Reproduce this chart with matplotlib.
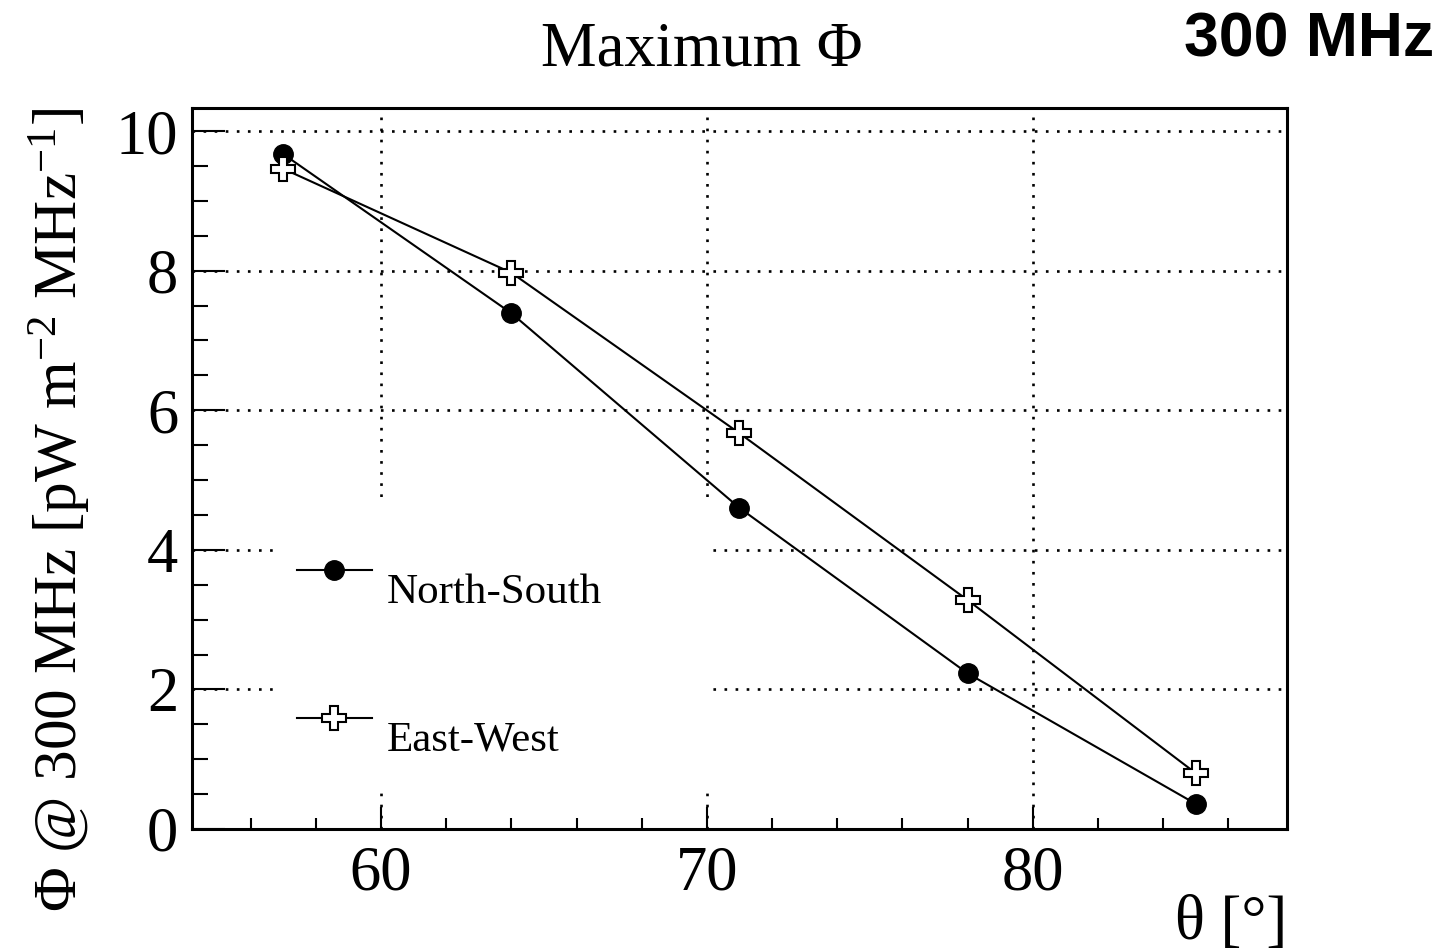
import matplotlib
matplotlib.use("Agg")
import matplotlib.pyplot as plt
from matplotlib.patches import Rectangle
from matplotlib.ticker import MultipleLocator

# zenith angle [deg] and maximum flux at 300 MHz [pW m^-2 MHz^-1]
theta = [57, 64, 71, 78, 85]
phi_ns = [9.67, 7.39, 4.60, 2.23, 0.36]
phi_ew = [9.46, 7.97, 5.67, 3.28, 0.80]
labels = ["North-South", "East-West"]

serif = ["Liberation Serif", "DejaVu Serif"]
plt.rcParams["font.family"] = serif
plt.rcParams["mathtext.fontset"] = "custom"
plt.rcParams["mathtext.rm"] = "Liberation Serif"
plt.rcParams["mathtext.it"] = "Liberation Serif:italic"

fig = plt.figure(figsize=(14.47, 9.51), dpi=100)
ax = fig.add_axes([0.1327, 0.1283, 0.7567, 0.7581])

ns_style = dict(color="black", lw=1.5, marker="o", ms=14, mfc="black", mec="black")
ew_style = dict(color="black", lw=1.5, marker="P", ms=17, mfc="white", mec="black", mew=1.5)

ax.plot(theta, phi_ns, zorder=4, **ns_style)
ax.plot(theta, phi_ew, zorder=4, **ew_style)

ax.set_xlim(54.2, 87.8)
ax.set_ylim(0, 10.33)
ax.xaxis.set_major_locator(MultipleLocator(10))
ax.xaxis.set_minor_locator(MultipleLocator(2))
ax.yaxis.set_major_locator(MultipleLocator(2))
ax.yaxis.set_minor_locator(MultipleLocator(0.5))

ax.grid(True, which="major", color="black", lw=1.9, ls=(0, (1, 3.2)), zorder=1)
ax.tick_params(axis="both", which="both", direction="in", top=False, right=False,
               labelsize=45, width=1.5, color="black")
ax.tick_params(axis="x", which="major", length=16, pad=12)
ax.tick_params(axis="x", which="minor", length=8)
ax.tick_params(axis="y", which="major", length=24, pad=10)
ax.tick_params(axis="y", which="minor", length=11.5)
for sp in ax.spines.values():
    sp.set_linewidth(2.2)

# legend drawn ROOT-style: white pad over the grid, text set below the handle
ax.add_patch(Rectangle((0.080, 0.057), 0.396, 0.403, transform=ax.transAxes,
                       facecolor="white", edgecolor="none", zorder=2))
for style, y_handle, y_text, lab in [(ns_style, 0.359, 0.328, labels[0]),
                                     (ew_style, 0.154, 0.123, labels[1])]:
    ax.plot([0.0959, 0.1644], [y_handle, y_handle], transform=ax.transAxes,
            color="black", lw=1.5, zorder=3)
    st = dict(style)
    st.pop("lw")
    ax.plot([0.1297], [y_handle], transform=ax.transAxes, ls="none", zorder=3, **st)
    ax.text(0.178, y_text, lab, transform=ax.transAxes, fontsize=31,
            ha="left", va="center", zorder=3)

ax.set_xlabel("θ [°]", fontsize=45, ha="right", va="center")
ax.xaxis.set_label_coords(1.0, -0.132)
ax.set_ylabel("Φ @ 300 MHz [pW m$^{-2}$ MHz$^{-1}$]", fontsize=44,
              loc="top", labelpad=17)

fig.text(0.485, 0.947, "Maximum Φ", fontsize=45, ha="center", va="center")
fig.text(0.991, 0.958, "300 MHz", fontsize=45, fontweight="bold",
         family=["Liberation Sans", "DejaVu Sans"], ha="right", va="center")

fig.savefig("out.png", dpi=100, facecolor="white")
